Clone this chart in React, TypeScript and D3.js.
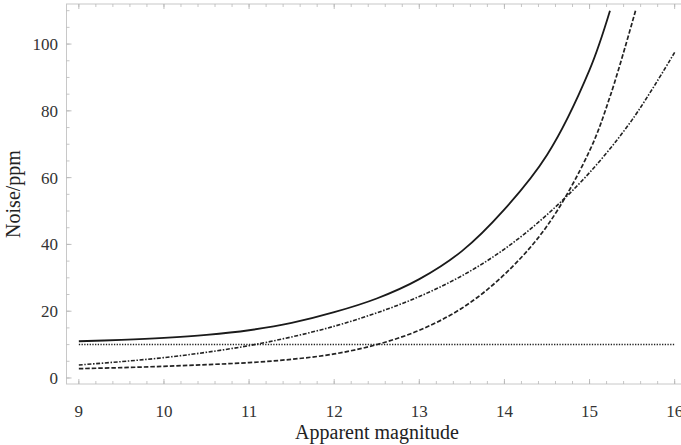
import React from "react";
import * as d3 from "d3";

// Data
const solidMag = [9, 9.5, 10, 10.5, 11, 11.5, 12, 12.5, 13, 13.5, 14, 14.5, 15, 15.24];
const solidNoise = [11.0, 11.4, 12.0, 12.9, 14.3, 16.5, 19.7, 23.8, 29.6, 38.0, 50.5, 66.8, 92.3, 110];

const dashedMag = [9, 9.5, 10, 10.5, 11, 11.5, 12, 12.5, 13, 13.5, 14, 14.5, 15, 15.25, 15.54];
const dashedNoise = [2.8, 3.1, 3.5, 4.0, 4.6, 5.6, 7.2, 10.0, 14.3, 20.9, 31.0, 45.5, 68.0, 85.0, 110];

const dashDotMag = [9, 9.5, 10, 10.5, 11, 11.5, 12, 12.5, 13, 13.5, 14, 14.5, 15, 15.5, 16];
const dashDotNoise = [3.9, 4.9, 6.1, 7.7, 9.7, 12.3, 15.5, 19.5, 24.4, 30.6, 38.6, 48.9, 61.5, 77.3, 97.5];

const dottedMag = [9, 16];
const dottedNoise = [10, 10];

const xTicks = [9, 10, 11, 12, 13, 14, 15, 16];
const yTicks = [0, 20, 40, 60, 80, 100];

const W = 681;
const H = 445;

export default function App() {
  const x = d3.scaleLinear().domain([8.855, 16.145]).range([66.5, 687]);
  const y = d3.scaleLinear().domain([-1.8, 112]).range([384, 4]);

  const line = d3
    .line<[number, number]>()
    .x((d) => x(d[0]))
    .y((d) => y(d[1]))
    .curve(d3.curveCatmullRom.alpha(0.5));

  const zip = (a: number[], b: number[]) => a.map((v, i) => [v, b[i]] as [number, number]);

  const xMinor = d3.range(8.8, 16.2001, 0.2).filter((v) => v > 8.86 && v < 16.14);
  const yMinor = d3.range(0, 112, 5);

  const frameColor = "#c8c8c8";
  const tickColor = "#b8b8b8";
  const font = "'Liberation Serif', 'Times New Roman', serif";

  return (
    <svg
      width={W}
      height={H}
      style={{ position: "absolute", left: 0, top: 0, background: "#fff" }}
      fontFamily={font}
    >
      <rect x={0} y={0} width={W} height={H} fill="#fff" />
      {/* frame */}
      <rect
        x={x(8.855)}
        y={y(112)}
        width={x(16.145) - x(8.855)}
        height={y(-1.8) - y(112)}
        fill="none"
        stroke={frameColor}
        strokeWidth={1}
      />
      {/* minor ticks x */}
      {xMinor.map((v, i) => (
        <g key={"xm" + i}>
          <line x1={x(v)} x2={x(v)} y1={384} y2={381} stroke={tickColor} strokeWidth={0.8} />
          <line x1={x(v)} x2={x(v)} y1={4} y2={7} stroke={tickColor} strokeWidth={0.8} />
        </g>
      ))}
      {xTicks.map((v) => (
        <g key={"xt" + v}>
          <line x1={x(v)} x2={x(v)} y1={384} y2={379} stroke={tickColor} strokeWidth={0.9} />
          <line x1={x(v)} x2={x(v)} y1={4} y2={9} stroke={tickColor} strokeWidth={0.9} />
          <text x={x(v)} y={417} textAnchor="middle" fontSize={17} fill="#333">
            {v}
          </text>
        </g>
      ))}
      {yMinor.map((v, i) => (
        <line key={"ym" + i} x1={66.5} x2={69.5} y1={y(v)} y2={y(v)} stroke={tickColor} strokeWidth={0.8} />
      ))}
      {yTicks.map((v) => (
        <g key={"yt" + v}>
          <line x1={66.5} x2={71.5} y1={y(v)} y2={y(v)} stroke={tickColor} strokeWidth={0.9} />
          <text x={58} y={y(v)} dy="0.35em" textAnchor="end" fontSize={17} fill="#333">
            {v}
          </text>
        </g>
      ))}

      {/* curves */}
      <path d={line(zip(dottedMag, dottedNoise)) || ""} fill="none" stroke="#222" strokeWidth={1.5} strokeDasharray="1.3,1.4" />
      <path d={line(zip(dashedMag, dashedNoise)) || ""} fill="none" stroke="#222" strokeWidth={1.7} strokeDasharray="4.5,2" />
      <path d={line(zip(dashDotMag, dashDotNoise)) || ""} fill="none" stroke="#222" strokeWidth={1.6} strokeDasharray="4,1.6,1.5,1.6" />
      <path d={line(zip(solidMag, solidNoise)) || ""} fill="none" stroke="#1a1a1a" strokeWidth={1.8} />

      {/* axis titles */}
      <text x={377} y={439} textAnchor="middle" fontSize={20} fill="#222">
        Apparent magnitude
      </text>
      <text
        transform={`translate(20,${194}) rotate(-90)`}
        textAnchor="middle"
        fontSize={20}
        fill="#222"
      >
        Noise/ppm
      </text>
    </svg>
  );
}
